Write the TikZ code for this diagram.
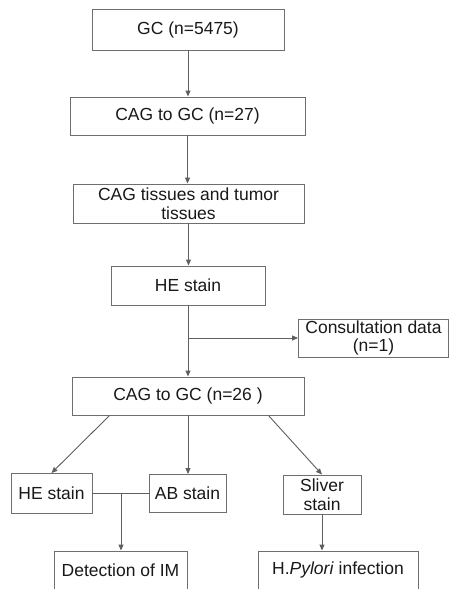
\documentclass[tikz,border=0pt]{standalone}
\usepackage{fontspec}
\setmainfont{Liberation Sans}
\usepackage{tikz}
\usetikzlibrary{arrows.meta,positioning,calc}
\definecolor{flowline}{RGB}{95,95,95}
\definecolor{flowbox}{RGB}{110,110,110}
\definecolor{flowtext}{RGB}{25,25,25}

\begin{document}
\begin{tikzpicture}[x=1pt, y=-1pt,
    box/.style={draw=flowbox, line width=0.9pt, inner sep=0pt, align=center,
        text=flowtext, font=\fontsize{17.5}{18.5}\selectfont},
    link/.style={draw=flowline, line width=0.9pt, -{Triangle[length=6pt,width=5pt]}},
    bare/.style={draw=flowline, line width=0.9pt}]
    \useasboundingbox (0,0) rectangle (449,589);
    \fill[white] (0,0) rectangle (449,589);

    % Main column
    \node[box, minimum width=192pt, minimum height=41pt] (gc) at (188,29.5) {GC (n=5475)};
    \node[box, minimum width=235pt, minimum height=38pt] (cag27) at (187.5,116) {CAG to GC (n=27)};
    \node[box, minimum width=231pt, minimum height=39pt] (tissue) at (188.5,203.5) {CAG tissues and tumor\\tissues};
    \node[box, minimum width=154pt, minimum height=39pt] (he) at (188,285.5) {HE stain};
    \node[box, minimum width=150pt, minimum height=38pt] (consult) at (373.5,338) {Consultation data\\(n=1)};
    \node[box, minimum width=232pt, minimum height=38pt] (cag26) at (188,396) {CAG to GC (n=26 )};

    % Stains
    \node[box, minimum width=81pt, minimum height=40pt] (hestain) at (51.5,493.5) {HE stain};
    \node[box, minimum width=77pt, minimum height=38pt] (abstain) at (187.5,493.5) {AB stain};
    \node[box, minimum width=78pt, minimum height=39pt] (sliver) at (322,494.5) {Sliver\\stain};

    % Results
    \node[box, minimum width=133pt, minimum height=38pt] (im) at (120.5,570) {Detection of IM};
    \node[box, minimum width=160pt, minimum height=38pt] (hp) at (338,570) {H.\textit{Pylori} infection};

    % Connectors
    \draw[link] (gc) -- (gc |- cag27.north);
    \draw[link] (cag27) -- (cag27 |- tissue.north);
    \draw[link] (tissue) -- (tissue |- he.north);
    \coordinate (split) at (188,338);
    \draw[link] (he) -- (he |- cag26.north);
    \draw[link] (split) -- (consult.west);

    \draw[link] ([xshift=38pt]cag26.south west) -- (hestain.north);
    \draw[link] (cag26) -- (cag26 |- abstain.north);
    \draw[link] ([xshift=-36pt]cag26.south east) -- (sliver.north);

    \coordinate (join) at (121,493.5);
    \draw[bare] (hestain.east) -- (abstain.west);
    \draw[link] (join) -- (join |- im.north);
    \draw[link] (sliver) -- (sliver |- hp.north);
\end{tikzpicture}
\end{document}
